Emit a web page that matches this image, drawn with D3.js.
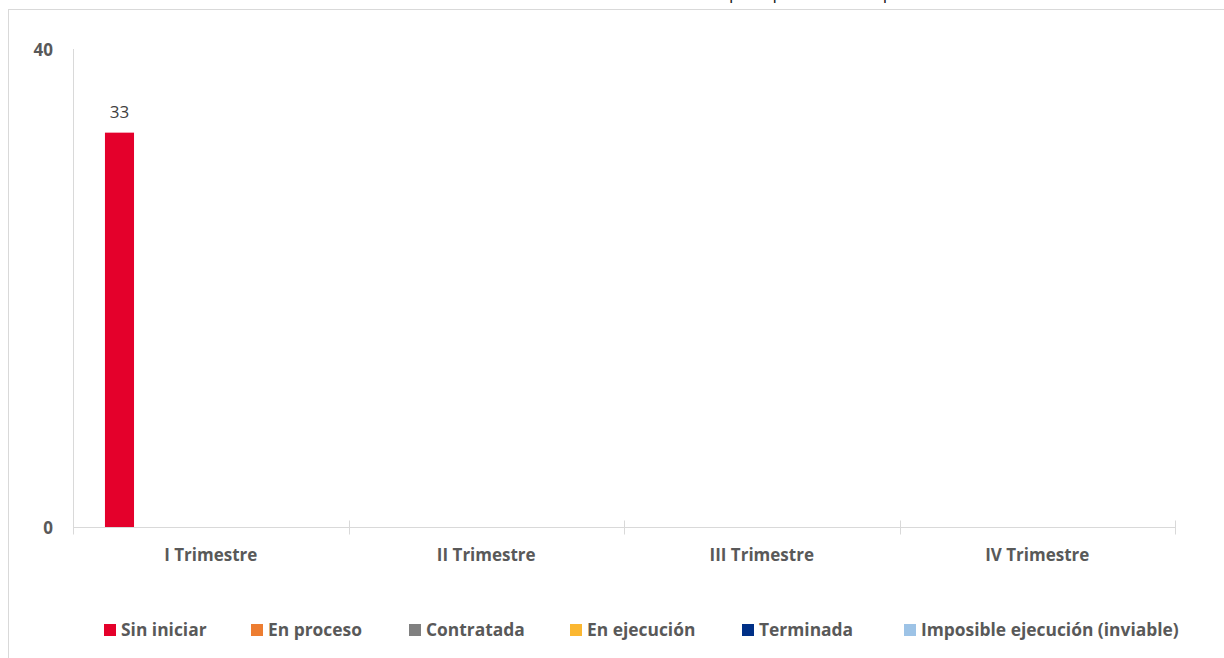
<!DOCTYPE html>
<html><head><meta charset="utf-8">
<script src="https://cdn.jsdelivr.net/npm/d3@7"></script>
<style>body{margin:0;background:#fff}svg{display:block}text{font-family:"Open Sans",Lato,sans-serif}</style>
</head><body><svg id="c" width="1224" height="658"></svg>
<script>
const categories = ["I Trimestre","II Trimestre","III Trimestre","IV Trimestre"];
const seriesNames = ["Sin iniciar","En proceso","Contratada","En ejecución","Terminada","Imposible ejecución (inviable)"];
const seriesColors = ["#E4002B","#ED7D31","#808080","#FBB731","#003087","#9DC3E6"];
const sinIniciar = [33,0,0,0];
const enProceso = [0,0,0,0];
const contratada = [0,0,0,0];
const enEjecucion = [0,0,0,0];
const terminada = [0,0,0,0];
const imposible = [0,0,0,0];
const yTicks = [0,40];
const titleText = "Número de acciones por tipo de estado por trimestre";

const values = [sinIniciar,enProceso,contratada,enEjecucion,terminada,imposible];
const svg = d3.select("#c");

// outer chart border
svg.append("rect").attr("x",8.5).attr("y",9.5).attr("width",1240).attr("height",700)
  .attr("fill","none").attr("stroke","#d9d9d9").attr("stroke-width",1);

// title (mostly above the visible area, as in the reference)
const title = svg.append("text").attr("y",-1).attr("font-size",20).attr("fill","#1a1a1a").text(titleText);
const tn = title.node();
const pIdx = [];
for (let i=0;i<titleText.length;i++) if (titleText[i]==="p") pIdx.push(i);
const pOff = pIdx.map(i=>tn.getSubStringLength(0,i));
const span = pOff[pOff.length-1]-pOff[0];
const fs = 20*154/span;
title.attr("font-size",fs);
const off0 = tn.getSubStringLength(0,pIdx[0]);
title.attr("x",729-off0);

const x0 = d3.scaleBand().domain(categories).range([73,1175]).padding(0);
const bw = x0.bandwidth();
const x1 = d3.scaleBand().domain(seriesNames).range([bw*0.116, bw*0.116 + 6*bw*0.1055]).padding(0);
const y = d3.scaleLinear().domain([0,40]).range([527,49]);

// y axis line
svg.append("line").attr("x1",73.5).attr("x2",73.5).attr("y1",49).attr("y2",527).attr("stroke","#d9d9d9");
// x axis line + ticks
const xa = svg.append("g").attr("transform","translate(0,527.5)")
  .call(d3.axisBottom(x0).tickSize(0).tickFormat(""));
xa.select(".domain").attr("stroke","#d9d9d9").attr("d","M73,0H1175");
const tickPos = categories.map(c=>x0(c)).concat([x0(categories[3])+bw]);
xa.selectAll(".sep").data(tickPos).join("line").attr("class","sep")
  .attr("x1",d=>Math.round(d)+0.5).attr("x2",d=>Math.round(d)+0.5).attr("y1",-7).attr("y2",7)
  .attr("stroke","#d9d9d9");
svg.selectAll(".xl").data(categories).join("text").attr("class","xl")
  .attr("x",d=>x0(d)+bw/2).attr("y",561).attr("text-anchor","middle")
  .attr("font-size",17).attr("font-weight","bold").attr("fill","#595959").text(d=>d);

// y tick labels
svg.selectAll(".yl").data(yTicks).join("text").attr("class","yl")
  .attr("x",53).attr("y",d=>y(d)+7).attr("text-anchor","end")
  .attr("font-size",17).attr("font-weight","bold").attr("fill","#595959").text(d=>d);

// bars
const data = [];
categories.forEach((c,i)=>seriesNames.forEach((s,j)=>data.push({c,s,j,v:values[j][i]})));
svg.selectAll(".bar").data(data).join("rect").attr("class","bar")
  .attr("x",d=>x0(d.c)+x1(d.s)).attr("width",x1.bandwidth())
  .attr("y",d=>y(d.v)).attr("height",d=>y(0)-y(d.v)).attr("fill",d=>seriesColors[d.j]);
svg.selectAll(".lbl").data(data.filter(d=>d.v>0)).join("text").attr("class","lbl")
  .attr("x",d=>x0(d.c)+x1(d.s)+x1.bandwidth()/2).attr("y",d=>y(d.v)-15)
  .attr("text-anchor","middle").attr("font-size",17).attr("fill","#404040").text(d=>d.v);

// legend
const legX = [104,251,409,570,742,904];
const lg = svg.selectAll(".lg").data(seriesNames).join("g").attr("class","lg")
  .attr("transform",(d,i)=>`translate(${legX[i]},624)`);
lg.append("rect").attr("width",12).attr("height",12).attr("fill",(d,i)=>seriesColors[i]);
lg.append("text").attr("x",17).attr("y",12).attr("font-size",17.4).attr("font-weight","bold")
  .attr("fill","#595959").text(d=>d);
</script></body></html>
